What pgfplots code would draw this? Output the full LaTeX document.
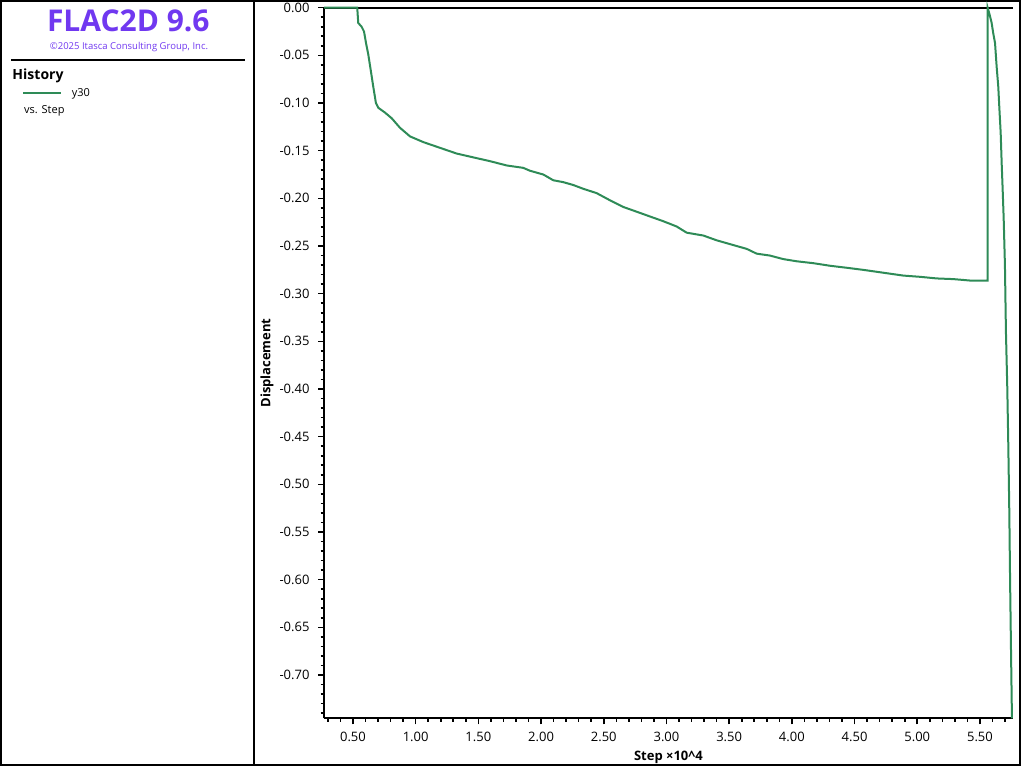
\documentclass[border=0pt]{standalone}
\usepackage{pgfplots}
\pgfplotsset{compat=1.18}
\usepackage{fontspec}
\setmainfont{Open Sans}
\definecolor{flacpurple}{RGB}{112,56,240}
\definecolor{flacgreen}{RGB}{46,139,87}

\pgfplotstableread{
x y
0.269 0
0.534 0
0.542 -0.016
0.569 -0.020
0.588 -0.025
0.604 -0.037
0.622 -0.049
0.641 -0.065
0.662 -0.083
0.683 -0.100
0.702 -0.105
0.755 -0.110
0.809 -0.116
0.875 -0.126
0.955 -0.135
1.061 -0.141
1.194 -0.147
1.327 -0.153
1.459 -0.157
1.593 -0.161
1.726 -0.1655
1.858 -0.168
1.911 -0.171
2.018 -0.175
2.097 -0.181
2.177 -0.183
2.257 -0.186
2.337 -0.190
2.443 -0.1945
2.549 -0.202
2.655 -0.209
2.762 -0.214
2.868 -0.219
2.975 -0.224
3.081 -0.2295
3.161 -0.236
3.294 -0.239
3.400 -0.244
3.533 -0.249
3.640 -0.253
3.719 -0.258
3.825 -0.260
3.931 -0.2637
4.038 -0.266
4.171 -0.268
4.304 -0.2707
4.437 -0.2728
4.569 -0.275
4.676 -0.277
4.782 -0.279
4.888 -0.281
5.022 -0.2823
5.155 -0.284
5.287 -0.2847
5.420 -0.2862
5.561 -0.2862
5.561 0
5.574 -0.006
5.593 -0.016
5.606 -0.027
5.620 -0.037
5.633 -0.062
5.646 -0.083
5.654 -0.104
5.665 -0.131
5.673 -0.163
5.681 -0.191
5.689 -0.221
5.699 -0.270
5.707 -0.340
5.718 -0.400
5.726 -0.460
5.734 -0.530
5.740 -0.600
5.747 -0.670
5.755 -0.7454
}\histdata

\begin{document}
\begin{tikzpicture}
\useasboundingbox (0,0) rectangle (1024pt,768pt);
\draw[line width=2pt] (1pt,3pt) rectangle (1020pt,767pt);
\draw[line width=2pt] (254pt,3pt) -- (254pt,767pt);
\draw[line width=2pt] (11pt,708pt) -- (245pt,708pt);
\node[anchor=base, inner sep=0pt, text=flacpurple, font=\fontsize{30}{36}\selectfont\bfseries] at (128.3pt,736.3pt) {FLAC2D 9.6};
\node[anchor=base, inner sep=0pt, text=flacpurple, font=\fontsize{9.5}{11}\selectfont] at (129pt,718.7pt) {©2025 Itasca Consulting Group, Inc.};
\node[anchor=base west, inner sep=0pt, font=\fontsize{14}{17}\selectfont\bfseries] at (12.3pt,688pt) {History};
\draw[flacgreen, line width=2pt] (23pt,675.3pt) -- (61pt,675.3pt);
\node[anchor=base west, inner sep=0pt, font=\fontsize{11}{13}\selectfont] at (71.7pt,671.3pt) {y30};
\node[anchor=base west, inner sep=0pt, font=\fontsize{11}{13}\selectfont] at (24pt,654.7pt) {vs. Step};
\begin{axis}[
  at={(324pt,49.7pt)}, anchor=south west,
  scale only axis, width=688.7pt, height=710.6pt,
  xmin=0.269, xmax=5.761, ymin=-0.7454, ymax=0,
  axis x line*=box, axis y line*=left,
  xtick pos=left, ytick pos=left,
  axis line style={line width=2pt, black},
  tick align=outside,
  major tick length=6pt, minor tick length=3.5pt,
  every tick/.style={black, line width=1.6pt},
  xtick={0.5,1.0,1.5,2.0,2.5,3.0,3.5,4.0,4.5,5.0,5.5},
  minor xtick={0.3,0.4,0.6,0.7,0.8,0.9,1.1,1.2,1.3,1.4,1.6,1.7,1.8,1.9,2.1,2.2,2.3,2.4,2.6,2.7,2.8,2.9,3.1,3.2,3.3,3.4,3.6,3.7,3.8,3.9,4.1,4.2,4.3,4.4,4.6,4.7,4.8,4.9,5.1,5.2,5.3,5.4,5.6,5.7},
  ytick={0,-0.05,-0.10,-0.15,-0.20,-0.25,-0.30,-0.35,-0.40,-0.45,-0.50,-0.55,-0.60,-0.65,-0.70},
  minor ytick={-0.01,-0.02,-0.03,-0.04,-0.06,-0.07,-0.08,-0.09,-0.11,-0.12,-0.13,-0.14,-0.16,-0.17,-0.18,-0.19,-0.21,-0.22,-0.23,-0.24,-0.26,-0.27,-0.28,-0.29,-0.31,-0.32,-0.33,-0.34,-0.36,-0.37,-0.38,-0.39,-0.41,-0.42,-0.43,-0.44,-0.46,-0.47,-0.48,-0.49,-0.51,-0.52,-0.53,-0.54,-0.56,-0.57,-0.58,-0.59,-0.61,-0.62,-0.63,-0.64,-0.66,-0.67,-0.68,-0.69,-0.71,-0.72,-0.73,-0.74},
  /pgf/number format/.cd, fixed, fixed zerofill, precision=2, assume math mode=true,
  /pgfplots/.cd,
  ticklabel style={font=\fontsize{13}{15}\selectfont},
  xticklabel style={yshift=-4pt},
  yticklabel style={xshift=-5pt},
  xlabel={Step ×10\textasciicircum 4},
  ylabel={Displacement},
  xlabel style={font=\fontsize{13}{15}\selectfont\bfseries, at={(axis description cs:0.5,-0.0587)}, anchor=base},
  ylabel style={font=\fontsize{13}{15}\selectfont\bfseries, at={(axis description cs:-0.0828,0.5)}, anchor=center},
  clip=false,
]
\addplot[flacgreen, line width=2pt, line join=miter] table[x=x,y=y] {\histdata};
\end{axis}
\end{tikzpicture}
\end{document}
